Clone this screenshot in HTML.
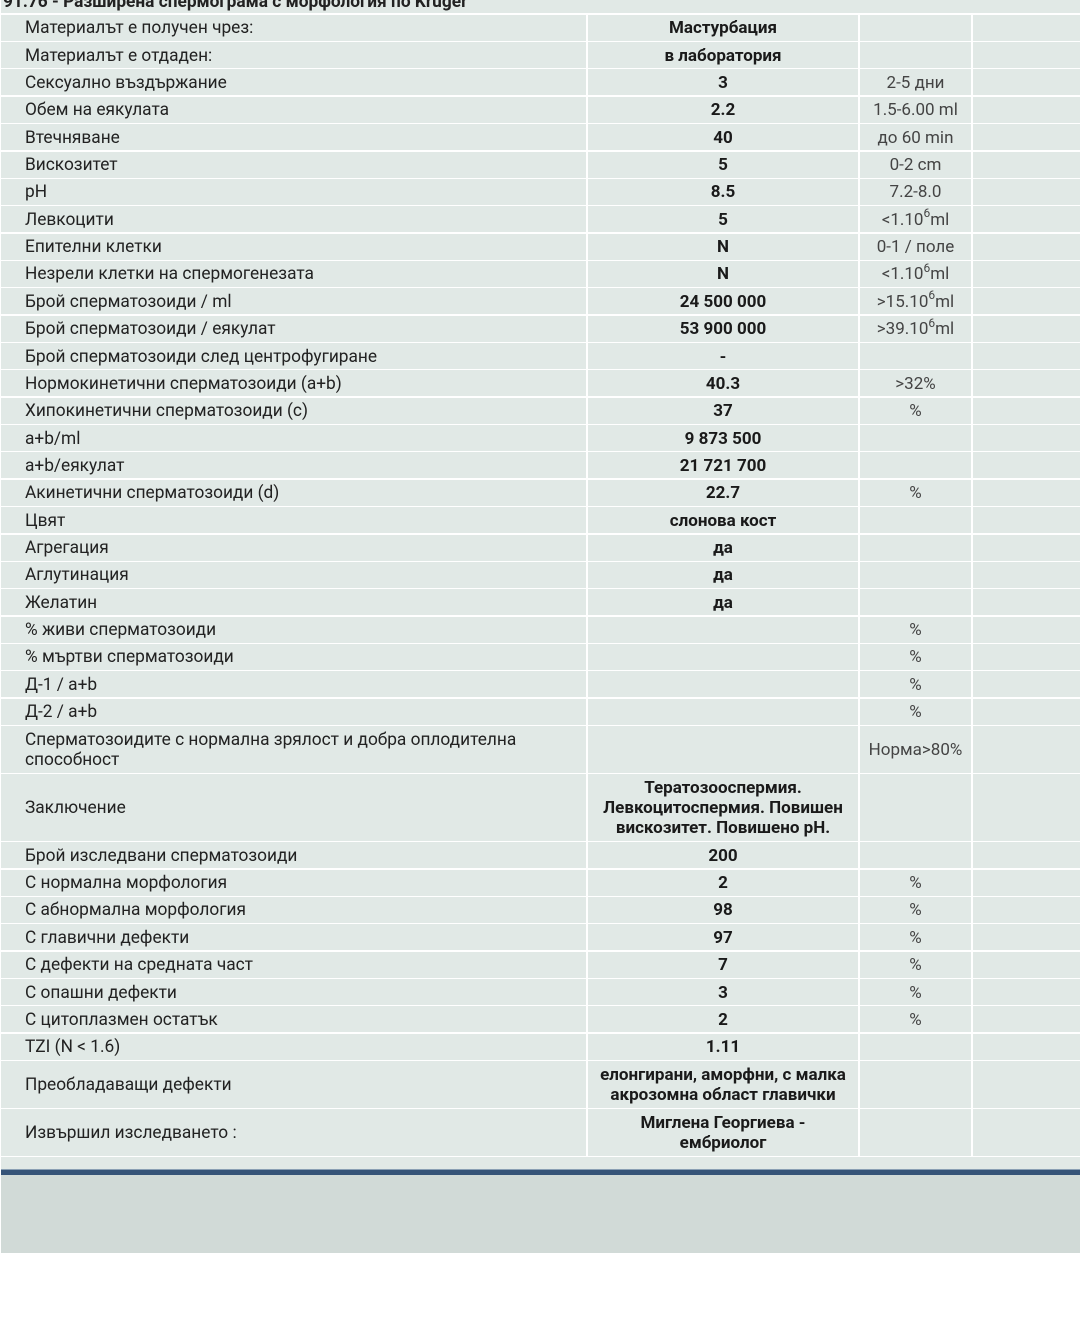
<!DOCTYPE html>
<html><head><meta charset="utf-8">
<style>
html,body{margin:0;padding:0;background:#fff;}
body{width:1080px;height:1344px;position:relative;overflow:hidden;font-family:"Roboto","Liberation Sans","DejaVu Sans",sans-serif;}
.title{position:absolute;left:1px;top:0;width:1079px;height:13.3px;background:#e1e9e6;overflow:hidden;}
.title span{position:absolute;left:2px;top:-6.5px;font-weight:bold;font-size:17.3px;line-height:17px;color:#222;white-space:nowrap;}
.r{position:absolute;left:0;width:1080px;}
.r>div{position:absolute;top:0;height:100%;background:#e1e9e6;display:flex;align-items:center;box-sizing:border-box;font-size:17px;line-height:20px;padding-top:1px;}
.c1{left:1px;width:585px;padding-left:24px;color:#222;font-size:17.3px!important;}
.c2{left:588px;width:270px;justify-content:center;text-align:center;font-weight:bold;color:#1a1a1a;}
.c3{left:860px;width:111px;justify-content:center;text-align:center;color:#444;}
.c4{left:973px;width:107px;}
sup{font-size:12px;line-height:0;position:relative;top:-1px;}
.band1{position:absolute;left:1px;top:1157px;width:1079px;height:12.3px;background:#e1e9e6;}
.blue{position:absolute;left:1px;top:1169.3px;width:1079px;height:5.4px;background:#365478;border-top:1px solid #8aa0b4;box-sizing:border-box;}
.gray{position:absolute;left:1px;top:1174.7px;width:1079px;height:78.3px;background:#d1dad7;}
</style></head><body>
<div class="title"><span>91.76 - Разширена спермограма с морфология по Kruger</span></div>

<div class="r" style="top:14.7px;height:26px"><div class="c1">Материалът е получен чрез:</div><div class="c2">Мастурбация</div><div class="c3"></div><div class="c4"></div></div>
<div class="r" style="top:42.06px;height:26px"><div class="c1">Материалът е отдаден:</div><div class="c2">в лаборатория</div><div class="c3"></div><div class="c4"></div></div>
<div class="r" style="top:69.42px;height:26px"><div class="c1">Сексуално въздържание</div><div class="c2">3</div><div class="c3">2-5 дни</div><div class="c4"></div></div>
<div class="r" style="top:96.78px;height:26px"><div class="c1">Обем на еякулата</div><div class="c2">2.2</div><div class="c3">1.5-6.00 ml</div><div class="c4"></div></div>
<div class="r" style="top:124.14px;height:26px"><div class="c1">Втечняване</div><div class="c2">40</div><div class="c3">до 60 min</div><div class="c4"></div></div>
<div class="r" style="top:151.5px;height:26px"><div class="c1">Вискозитет</div><div class="c2">5</div><div class="c3">0-2 cm</div><div class="c4"></div></div>
<div class="r" style="top:178.86px;height:26px"><div class="c1">pH</div><div class="c2">8.5</div><div class="c3">7.2-8.0</div><div class="c4"></div></div>
<div class="r" style="top:206.22px;height:26px"><div class="c1">Левкоцити</div><div class="c2">5</div><div class="c3"><span>&lt;1.10<sup>6</sup>ml</span></div><div class="c4"></div></div>
<div class="r" style="top:233.58px;height:26px"><div class="c1">Епителни клетки</div><div class="c2">N</div><div class="c3">0-1 / поле</div><div class="c4"></div></div>
<div class="r" style="top:260.94px;height:26px"><div class="c1">Незрели клетки на спермогенезата</div><div class="c2">N</div><div class="c3"><span>&lt;1.10<sup>6</sup>ml</span></div><div class="c4"></div></div>
<div class="r" style="top:288.3px;height:26px"><div class="c1">Брой сперматозоиди / ml</div><div class="c2">24 500 000</div><div class="c3"><span>&gt;15.10<sup>6</sup>ml</span></div><div class="c4"></div></div>
<div class="r" style="top:315.66px;height:26px"><div class="c1">Брой сперматозоиди / еякулат</div><div class="c2">53 900 000</div><div class="c3"><span>&gt;39.10<sup>6</sup>ml</span></div><div class="c4"></div></div>
<div class="r" style="top:343.02px;height:26px"><div class="c1">Брой сперматозоиди след центрофугиране</div><div class="c2">-</div><div class="c3"></div><div class="c4"></div></div>
<div class="r" style="top:370.38px;height:26px"><div class="c1">Нормокинетични сперматозоиди (a+b)</div><div class="c2">40.3</div><div class="c3">&gt;32%</div><div class="c4"></div></div>
<div class="r" style="top:397.74px;height:26px"><div class="c1">Хипокинетични сперматозоиди (c)</div><div class="c2">37</div><div class="c3">%</div><div class="c4"></div></div>
<div class="r" style="top:425.1px;height:26px"><div class="c1">a+b/ml</div><div class="c2">9 873 500</div><div class="c3"></div><div class="c4"></div></div>
<div class="r" style="top:452.46px;height:26px"><div class="c1">a+b/еякулат</div><div class="c2">21 721 700</div><div class="c3"></div><div class="c4"></div></div>
<div class="r" style="top:479.82px;height:26px"><div class="c1">Акинетични сперматозоиди (d)</div><div class="c2">22.7</div><div class="c3">%</div><div class="c4"></div></div>
<div class="r" style="top:507.18px;height:26px"><div class="c1">Цвят</div><div class="c2">слонова кост</div><div class="c3"></div><div class="c4"></div></div>
<div class="r" style="top:534.54px;height:26px"><div class="c1">Агрегация</div><div class="c2">да</div><div class="c3"></div><div class="c4"></div></div>
<div class="r" style="top:561.9px;height:26px"><div class="c1">Аглутинация</div><div class="c2">да</div><div class="c3"></div><div class="c4"></div></div>
<div class="r" style="top:589.26px;height:26px"><div class="c1">Желатин</div><div class="c2">да</div><div class="c3"></div><div class="c4"></div></div>
<div class="r" style="top:616.62px;height:26px"><div class="c1">% живи сперматозоиди</div><div class="c2"></div><div class="c3">%</div><div class="c4"></div></div>
<div class="r" style="top:643.98px;height:26px"><div class="c1">% мъртви сперматозоиди</div><div class="c2"></div><div class="c3">%</div><div class="c4"></div></div>
<div class="r" style="top:671.34px;height:26px"><div class="c1">Д-1 / a+b</div><div class="c2"></div><div class="c3">%</div><div class="c4"></div></div>
<div class="r" style="top:698.7px;height:26px"><div class="c1">Д-2 / a+b</div><div class="c2"></div><div class="c3">%</div><div class="c4"></div></div>
<div class="r" style="top:726.2px;height:46.5px"><div class="c1"><span>Сперматозоидите с нормална зрялост и добра оплодителна<br>способност</span></div><div class="c2"></div><div class="c3">Норма&gt;80%</div><div class="c4"></div></div>
<div class="r" style="top:774.2px;height:66.5px"><div class="c1">Заключение</div><div class="c2"><span>Тератозооспермия.<br>Левкоцитоспермия. Повишен<br>вискозитет. Повишено pH.</span></div><div class="c3"></div><div class="c4"></div></div>
<div class="r" style="top:842.2px;height:26px"><div class="c1">Брой изследвани сперматозоиди</div><div class="c2">200</div><div class="c3"></div><div class="c4"></div></div>
<div class="r" style="top:869.56px;height:26px"><div class="c1">С нормална морфология</div><div class="c2">2</div><div class="c3">%</div><div class="c4"></div></div>
<div class="r" style="top:896.92px;height:26px"><div class="c1">С абнормална морфология</div><div class="c2">98</div><div class="c3">%</div><div class="c4"></div></div>
<div class="r" style="top:924.28px;height:26px"><div class="c1">С главични дефекти</div><div class="c2">97</div><div class="c3">%</div><div class="c4"></div></div>
<div class="r" style="top:951.64px;height:26px"><div class="c1">С дефекти на средната част</div><div class="c2">7</div><div class="c3">%</div><div class="c4"></div></div>
<div class="r" style="top:979px;height:26px"><div class="c1">С опашни дефекти</div><div class="c2">3</div><div class="c3">%</div><div class="c4"></div></div>
<div class="r" style="top:1006.36px;height:26px"><div class="c1">С цитоплазмен остатък</div><div class="c2">2</div><div class="c3">%</div><div class="c4"></div></div>
<div class="r" style="top:1033.72px;height:26px"><div class="c1">TZI (N &lt; 1.6)</div><div class="c2">1.11</div><div class="c3"></div><div class="c4"></div></div>
<div class="r" style="top:1061.1px;height:46.5px"><div class="c1">Преобладаващи дефекти</div><div class="c2"><span>елонгирани, аморфни, с малка<br>акрозомна област главички</span></div><div class="c3"></div><div class="c4"></div></div>
<div class="r" style="top:1109.1px;height:46.5px"><div class="c1">Извършил изследването :</div><div class="c2"><span>Миглена Георгиева -<br>ембриолог</span></div><div class="c3"></div><div class="c4"></div></div>

<div class="band1"></div>
<div class="blue"></div>
<div class="gray"></div>
</body></html>
